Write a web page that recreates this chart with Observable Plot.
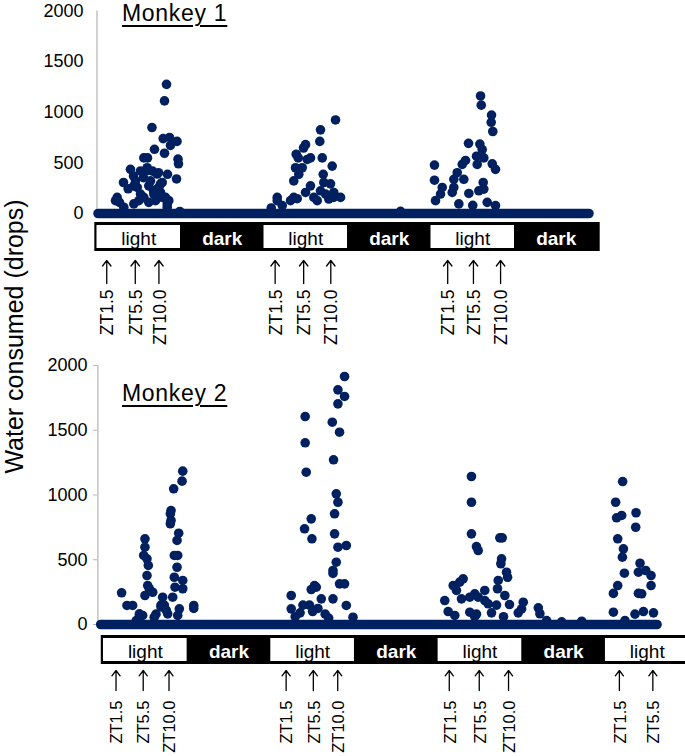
<!DOCTYPE html>
<html><head><meta charset="utf-8">
<script src="https://cdn.jsdelivr.net/npm/d3@7"></script>
<script src="https://cdn.jsdelivr.net/npm/@observablehq/plot@0.6"></script>
<style>
body{margin:0;background:#fff;}
#fig{position:relative;width:685px;height:756px;overflow:hidden;font-family:"Liberation Sans",Arial,Helvetica,sans-serif;background:#fff;}
.panel{position:absolute;left:0;}
.title{position:absolute;left:122px;font-size:23px;line-height:26px;text-decoration:underline;text-decoration-thickness:2px;text-underline-offset:4px;letter-spacing:0.7px;color:#000;white-space:nowrap;}
#ylab{position:absolute;left:0;top:0;}
</style></head><body><div id="fig"></div>
<script>
// ---------- data ----------
const yTicks = [0, 500, 1000, 1500, 2000];
const ztLabels = ["ZT1.5", "ZT5.5", "ZT10.0"];
const titles = ["Monkey 1", "Monkey 2"];
const yLabel = "Water consumed (drops)";

const m1Phases = ["light", "dark", "light", "dark", "light", "dark"];
const m2Phases = ["light", "dark", "light", "dark", "light", "dark", "light"];

// arrow positions (hours from first light onset)
const m1ArrowHours = [1.4, 5.5, 8.9, 25.6, 29.7, 33.6, 50.4, 54.1, 58.0];
const m2ArrowHours = [1.8, 5.7, 9.4, 26.2, 30.1, 33.6, 49.6, 53.9, 58.1, 74.0, 78.8];

// first and last sample (hours); all samples between are 0 unless listed below
const m1Record = [0.15, 70.7];
const m2Record = [-0.4, 79.4];

// non-zero samples [hour, drops]
const m1Points = [
  [2.66,127],[2.9,159],[3.23,110],[3.81,306],[3.85,62],[4.48,244],[4.81,436],[5.25,370],[5.29,95],[5.29,273],
  [5.53,322],[5.78,257],[6.01,127],[6.25,192],[6.25,420],[6.68,354],[6.73,549],[6.73,159],[7.21,452],[7.26,549],
  [7.4,426],[7.44,110],[7.44,273],[7.69,322],[7.9,849],[7.98,419],[8.12,224],[8.16,192],[8.26,634],[8.41,127],
  [8.65,390],[8.65,241],[8.84,403],[8.88,257],[9.13,293],[9.13,208],[9.37,159],[9.37,306],[9.51,740],[9.7,1112],
  [9.7,595],[9.84,159],[9.99,1275],[10.09,95],[10.13,387],[10.32,127],[10.42,751],[10.56,673],[11.43,341],[11.5,712],
  [11.64,537],[11.71,491],[11.9,20],[10.09,62],
  [25.04,55],[25.9,159],[25.9,127],[26.62,78],[27.81,127],[28.28,322],[28.28,159],[28.53,452],[28.63,585],[28.77,146],
  [28.92,549],[29.0,387],[29.49,452],[29.68,647],[29.97,680],[29.97,208],[30.21,534],[30.68,549],[30.68,273],[31.16,159],
  [31.65,127],[32.02,712],[32.12,826],[32.12,224],[32.37,549],[32.51,387],[32.6,306],[32.85,192],[33.31,143],[33.56,293],
  [33.8,468],[33.99,159],[34.03,208],[34.28,924],[35.0,159],
  [43.62,22],[48.5,478],[48.5,329],[48.65,127],[49.37,192],[49.61,257],[51.05,208],[51.28,338],[51.28,257],[51.77,403],
  [52.49,485],[52.72,338],[52.96,524],[53.39,693],[53.44,198],[54.54,566],[54.64,485],[54.87,224],[55.02,686],[55.12,1161],
  [55.22,1070],[55.36,631],[55.5,306],[55.59,549],[55.59,241],[56.08,110],[56.65,901],[56.7,972],[56.8,491],[56.88,810],
  [57.27,436],[57.27,78],[52.0,95],[54.0,80]
];
const m2Points = [
  [2.6,245],[3.37,147],[4.18,147],[5.95,662],[5.95,597],[5.77,533],[6.24,507],[6.43,456],[6.24,378],[6.34,301],
  [6.57,276],[5.95,224],[7.06,249],[5.62,70],[7.53,80],[8.49,211],[8.72,150],[8.25,150],[9.69,880],[9.59,855],
  [9.69,803],[9.59,778],[10.07,1048],[11.37,1184],[11.27,1107],[10.79,705],[10.55,649],[10.16,533],[10.65,533],[10.55,442],
  [10.16,365],[11.37,340],[10.26,288],[11.37,276],[9.93,211],[10.88,121],[12.95,147],[12.95,124],[5.15,82],[7.28,56],
  [8.25,136],[9.21,82],[10.65,70],[5.13,56],[4.7,30],[9.0,110],
  [26.93,224],[26.93,121],[28.93,1606],[28.93,1403],[29.08,1176],[28.84,739],[29.8,816],[29.9,662],[28.61,150],[29.55,150],
  [30.27,301],[30.52,288],[29.8,270],[31.24,198],[30.76,124],[32.82,1562],[33.0,1272],[33.63,1812],[33.63,1704],[33.86,1485],
  [33.39,1009],[33.63,944],[33.15,855],[33.15,700],[33.63,597],[33.39,481],[32.92,417],[32.92,394],[32.92,198],[33.86,314],
  [34.58,1915],[34.58,1761],[34.83,610],[34.58,314],[34.83,147],[35.79,56],[27.5,60],[31.8,80],[32.3,50],[28.2,90],[30.0,100],
  [52.78,1143],[52.78,944],[52.78,700],[53.5,602],[53.75,571],[56.85,669],[57.2,669],[57.1,507],[57.0,469],[57.81,404],
  [57.96,365],[56.62,340],[56.52,276],[57.57,224],[58.24,154],[48.95,185],[50.16,301],[50.63,263],[51.1,327],[51.59,353],
  [51.35,198],[52.54,211],[53.26,237],[53.75,211],[54.69,263],[54.69,185],[55.18,160],[56.38,150],[60.21,172],[59.97,120],
  [59.49,90],[62.37,129],[62.6,83],[63.56,30],[65.72,20],[68.6,25],[49.44,100],[50.39,70],[52.54,95],[53.26,60],
  [53.5,80],[55.66,90],[57.38,60],
  [74.47,1104],[73.46,944],[73.6,824],[74.33,842],[76.39,863],[76.34,751],[73.76,662],[74.58,584],[74.43,520],[74.72,396],
  [76.96,473],[76.73,404],[77.78,417],[78.54,378],[78.54,301],[73.76,301],[73.14,240],[76.73,240],[77.2,237],[73.14,95],
  [76.24,80],[77.45,100],[78.89,90],[74.8,30]
];

// ---------- drawing ----------
const navy = "#002060";
const font = "'Liberation Sans', Arial, Helvetica, sans-serif";

function panel(cfg) {
  const {points, phases, arrows, record, xDomain, xRange, height, y0, y2000,
         barTop, barBottom, arrowHead, arrowTail, labelTop, ztSize, tickSize, tickPadding} = cfg;
  const py = px => (y0 - px) * 2000 / (y0 - y2000);   // pixel row -> drops (for annotation rows)
  const periods = phases.map((p, i) => ({phase: p, start: i * 12, end: (i + 1) * 12}));
  const data = points.map(([h, v]) => ({h, v}));
  const arrowData = arrows.map((h, i) => ({h, label: ztLabels[i % 3]}));
  const span = [{start: 0, end: phases.length * 12}];
  return Plot.plot({
    width: 685, height,
    marginTop: y2000, marginBottom: height - y0, marginLeft: 97, marginRight: 0,
    x: {domain: xDomain, range: xRange, axis: null},
    y: {domain: [0, 2000], label: null},
    style: {fontFamily: font, fontSize: "18px", color: "black", background: "white", overflow: "hidden"},
    marks: [
      Plot.ruleX([xDomain[0]], {y1: () => 0, y2: () => 2000, stroke: "#c2c2c2", strokeWidth: 1.5}),
      Plot.axisY({ticks: yTicks, tickFormat: d => String(d), tickSize, tickPadding, stroke: "#b5b5b5",
                  fontSize: 18, label: null}),
      // light/dark bar
      Plot.rect(span, {x1: "start", x2: "end", y1: () => py(barTop), y2: () => py(barBottom),
                       fill: "black", insetLeft: -2.2, insetRight: -2.2}),
      Plot.rect(periods.filter(d => d.phase === "light"),
                {x1: "start", x2: "end", y1: () => py(barTop + 3), y2: () => py(barBottom - 3), fill: "white"}),
      Plot.text(periods.filter(d => d.phase === "light"),
                {x: d => (d.start + d.end) / 2, y: () => py((barTop + barBottom) / 2), text: "phase",
                 fill: "black", fontSize: 19, dy: 1.5}),
      Plot.text(periods.filter(d => d.phase === "dark"),
                {x: d => (d.start + d.end) / 2, y: () => py((barTop + barBottom) / 2), text: "phase",
                 fill: "white", fontWeight: "bold", fontSize: 19, dy: 1.5}),
      // ZT arrows and labels
      Plot.arrow(arrowData, {x1: "h", x2: "h", y1: () => py(arrowTail), y2: () => py(arrowHead),
                             stroke: "black", strokeWidth: 1.3, headLength: 8, headAngle: 75}),
      Plot.text(arrowData, {x: "h", y: () => py(labelTop), text: "label", rotate: -90,
                            textAnchor: "end", lineAnchor: "middle", fontSize: ztSize, dx: 1}),
      // baseline of zero samples and non-zero samples
      Plot.line(record, {x: d => d, y: () => 0, stroke: navy, strokeWidth: 9.6, strokeLinecap: "round"}),
      Plot.dot(data, {x: "h", y: "v", r: 4.8, fill: navy, stroke: "none"})
    ]
  });
}

const fig = document.getElementById("fig");

const p1 = panel({
  points: m1Points, phases: m1Phases, arrows: m1ArrowHours, record: m1Record,
  xDomain: [0, 72], xRange: [96.5, 597.5], height: 350, y0: 213, y2000: 10.5,
  barTop: 222, barBottom: 251, arrowHead: 260, arrowTail: 283, labelTop: 289, ztSize: 17.5,
  tickSize: 0, tickPadding: 14
});
p1.classList.add("panel"); p1.style.top = "0px";
fig.appendChild(p1);

const p2 = panel({
  points: m2Points, phases: m2Phases, arrows: m2ArrowHours, record: m2Record,
  xDomain: [-0.8, 84], xRange: [97.4, 688.6], height: 406, y0: 274, y2000: 15,
  barTop: 285, barBottom: 314, arrowHead: 320, arrowTail: 340, labelTop: 350, ztSize: 16.5,
  tickSize: 4, tickPadding: 6
});
p2.classList.add("panel"); p2.style.top = "350px";
fig.appendChild(p2);

// titles
[[titles[0], 0], [titles[1], 380]].forEach(([t, top]) => {
  const d = document.createElement("div");
  d.className = "title"; d.textContent = t; d.style.top = top + "px";
  fig.appendChild(d);
});

// shared y label
const ys = d3.select(fig).append("svg").attr("id", "ylab").attr("width", 40).attr("height", 756);
ys.append("text").attr("transform", "translate(23,336.5) rotate(-90)")
  .attr("text-anchor", "middle").attr("font-family", font).attr("font-size", 25).text(yLabel);
</script></body></html>
